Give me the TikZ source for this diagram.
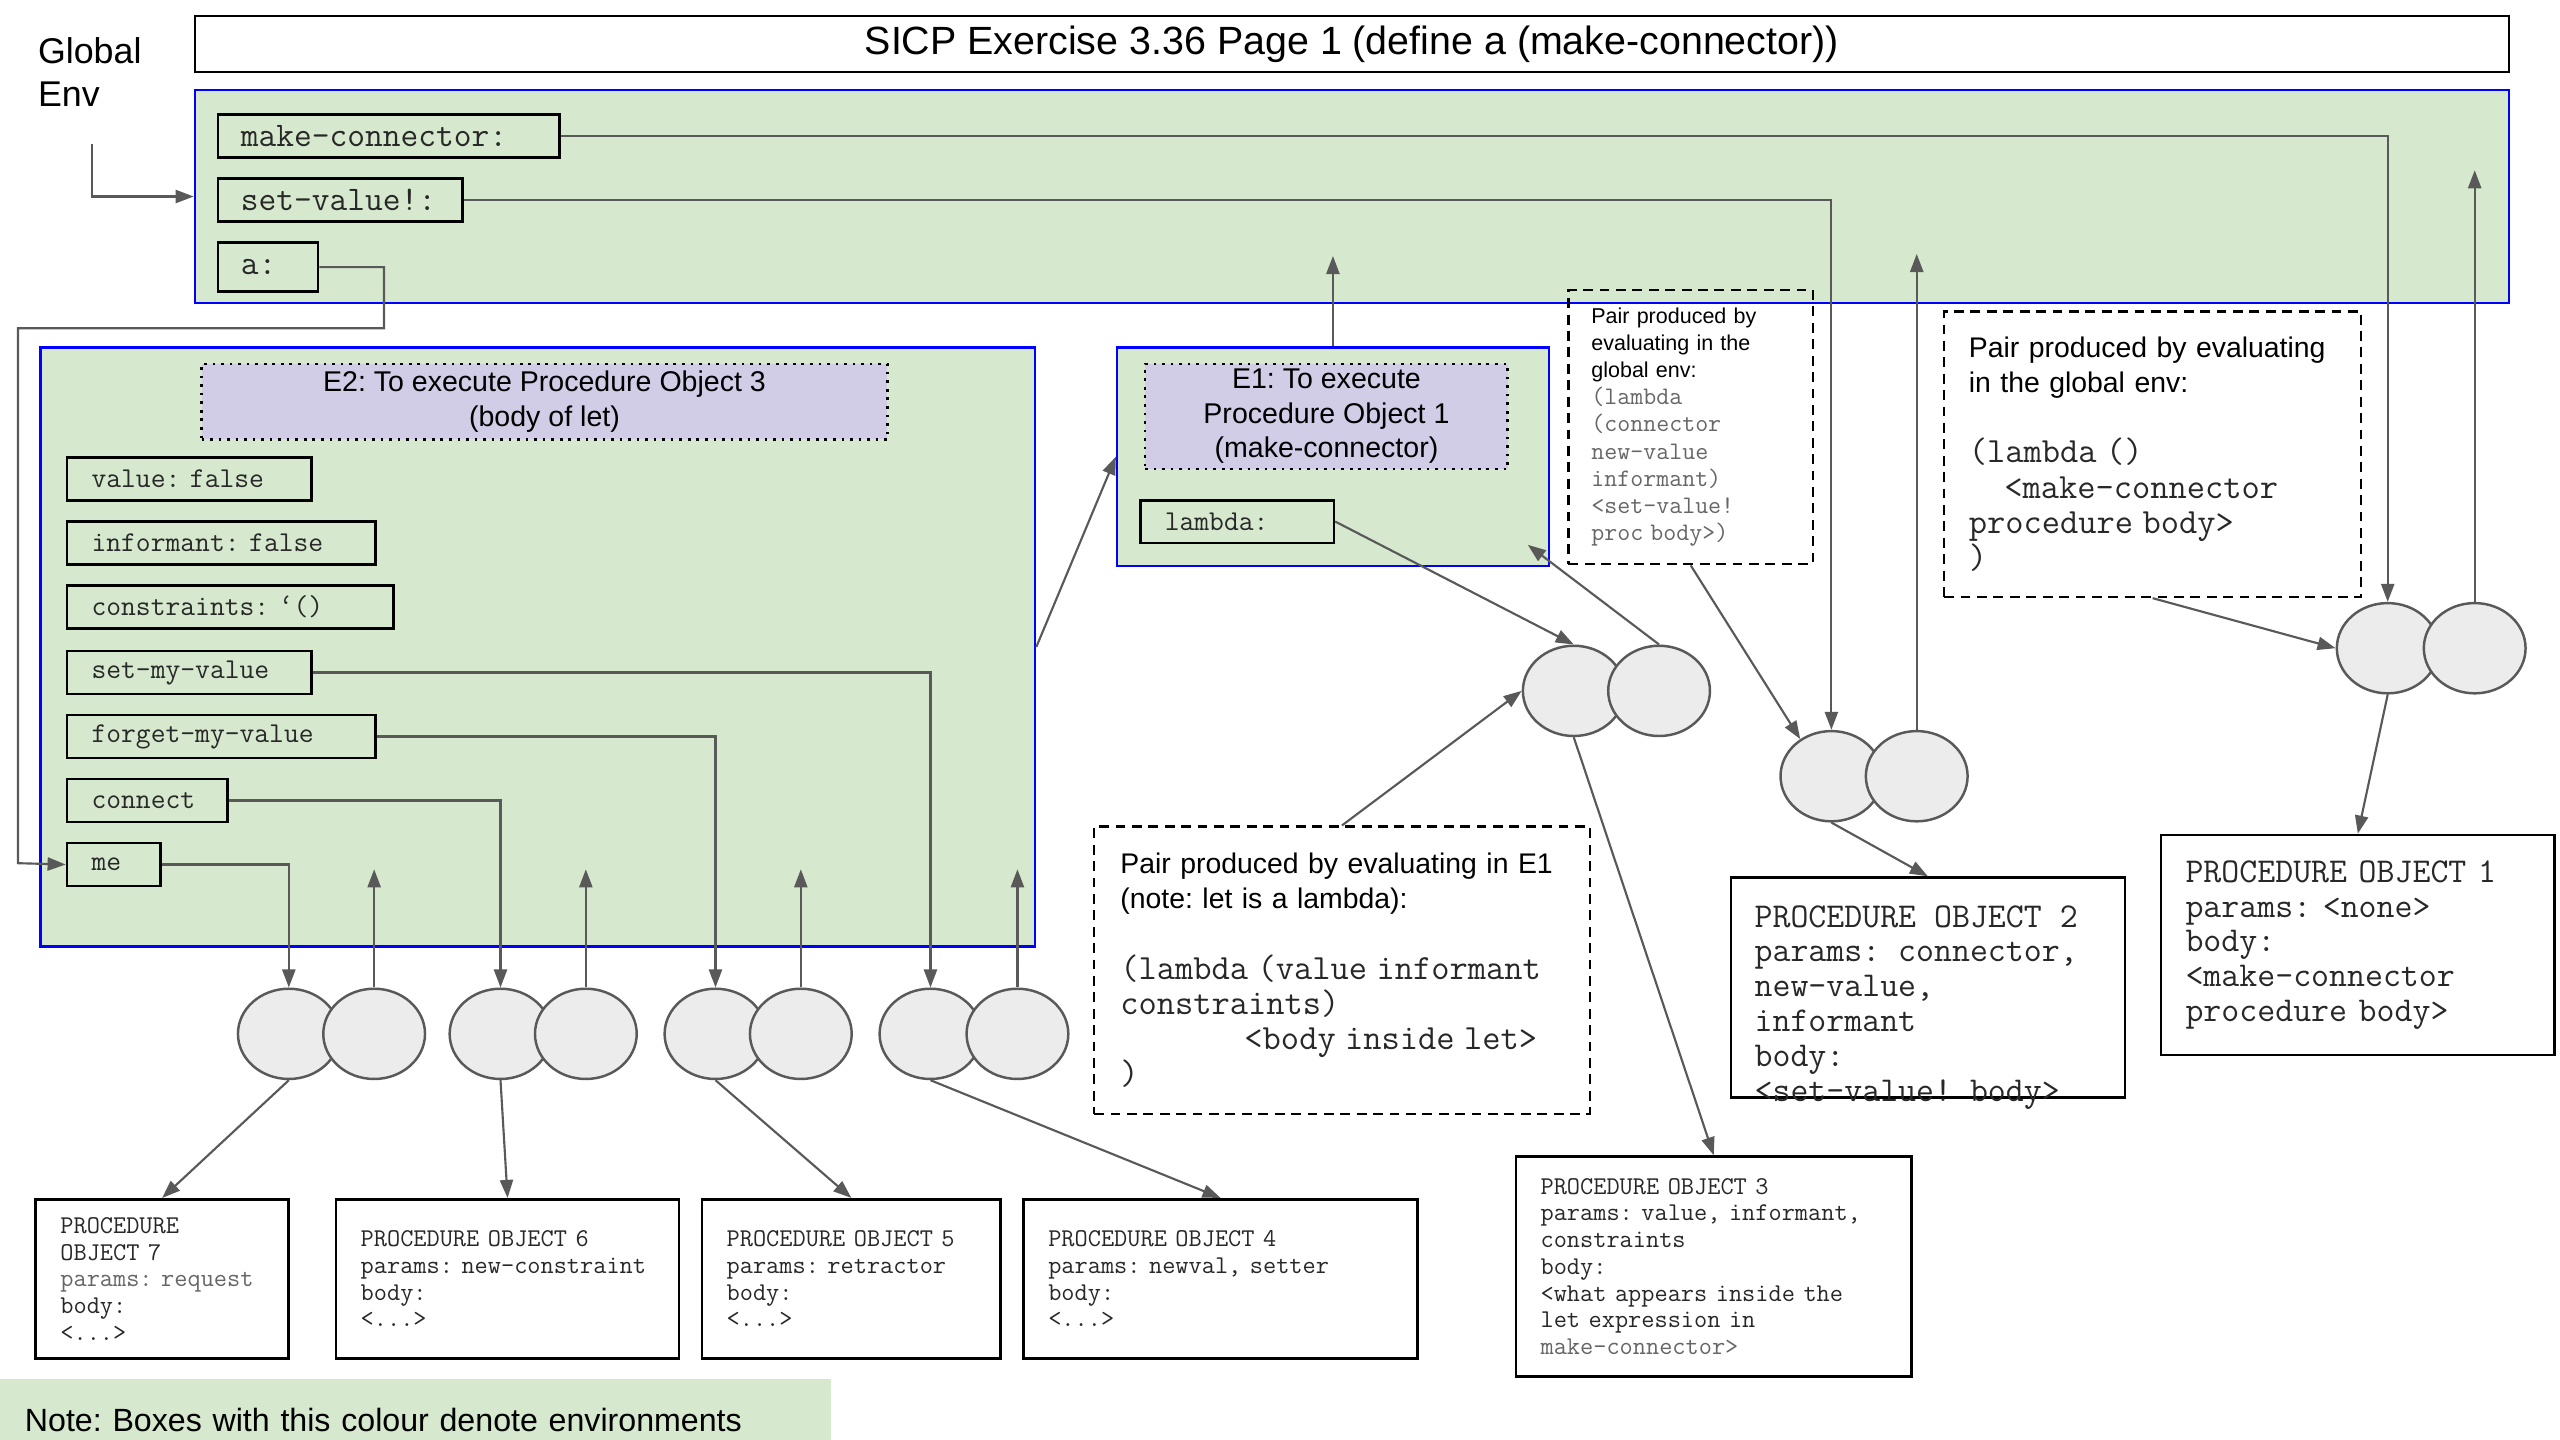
\documentclass[tikz,border=0pt]{standalone}
\usepackage{fontspec}
\setmainfont{Liberation Sans}
\setmonofont{Latin Modern Mono}[Scale=1.2]
\usepackage{tikz}
\usetikzlibrary{arrows.meta}
\usetikzlibrary{shapes.geometric}
\usepackage{color}
\definecolor{envgreen}{RGB}{214, 232, 206}
\definecolor{framelilac}{RGB}{209, 205, 231}
\definecolor{envblue}{RGB}{0, 0, 255}
\definecolor{wiregray}{RGB}{89, 89, 89}
\definecolor{cellgray}{RGB}{236, 236, 236}
\definecolor{inkgray}{RGB}{40, 40, 40}
\definecolor{softgray}{RGB}{102, 102, 102}
\newcommand{\fntTitle}{\fontsize{24}{28}\selectfont}
\newcommand{\fntLabel}{\fontsize{21.8}{26}\selectfont}
\newcommand{\fntFrame}{\fontsize{17.4}{21}\selectfont}
\newcommand{\fntNote}{\fontsize{17.3}{21.4}\selectfont}
\newcommand{\fntNoteCode}{\fontsize{18}{21.4}\selectfont\ttfamily\color{inkgray}}
\newcommand{\fntTiny}{\fontsize{13.1}{16.5}\selectfont}
\newcommand{\fntTinyCode}{\fontsize{12.8}{16.5}\selectfont\ttfamily\color{softgray}}
\newcommand{\fntGlobalCode}{\fontsize{17.5}{21}\selectfont\ttfamily}
\newcommand{\fntEnvCode}{\fontsize{14.6}{18}\selectfont\ttfamily}
\newcommand{\fntObj}{\fontsize{17.7}{21.2}\selectfont\ttfamily}
\newcommand{\fntSmallObj}{\fontsize{13}{16.3}\selectfont\ttfamily}
\newcommand{\fntLegend}{\fontsize{19.6}{24}\selectfont}
\frenchspacing

\begin{document}
\begin{tikzpicture}[x=1pt, y=-1pt,
    envbox/.style={draw=envblue, line width=1.5pt, fill=envgreen, anchor=north west, inner sep=0pt},
    binding/.style={draw=black, line width=1.6pt, fill=envgreen, anchor=north west, inner xsep=14pt, inner ysep=0pt, minimum height=26pt, align=left, text=inkgray},
    framebox/.style={draw=black, dash pattern=on 1.6pt off 3.6pt, line width=1.6pt, fill=framelilac, anchor=north west, inner sep=0pt, align=center},
    pairnote/.style={draw=black, dash pattern=on 6pt off 4pt, line width=1.5pt, anchor=north west, inner ysep=0pt, align=left},
    procbox/.style={draw=black, line width=1.6pt, fill=white, anchor=north west, inner xsep=15pt, inner ysep=0pt, align=left, text=inkgray},
    cell/.style={ellipse, draw=wiregray, line width=1.5pt, fill=cellgray, minimum width=62pt, minimum height=55pt, inner sep=0pt},
    link/.style={draw=wiregray, line width=1.3pt, -{Triangle[length=11pt, width=8pt]}}
  ]
    \useasboundingbox (0,0) rectangle (1560,877.5);

    % title and global environment
    \node[draw=black, line width=1.5pt, anchor=north west, minimum width=1410pt, minimum height=34pt, inner sep=0pt, font=\fntTitle]
        (title) at (118,9) {SICP Exercise 3.36 Page 1 (define a (make-connector))};
    \node[anchor=north west, align=left, inner sep=0pt, font=\fntLabel] (genv) at (23,23) {Global\\Env};
    \node[envbox, minimum width=1410pt, minimum height=130pt]                           (global)  at (118,54)  {};
    \node[binding, text width=180pt, font=\fntGlobalCode]                               (mkc)     at (132,69)  {make-connector:};
    \node[binding, text width=121pt, font=\fntGlobalCode]                               (setv)    at (132,108) {set-value!:};
    \node[binding, text width=33pt, minimum height=30pt, font=\fntGlobalCode]           (abind)   at (132,147) {a:};

    % E2
    \node[envbox, minimum width=606pt, minimum height=365pt]                            (e2)      at (24,211)  {};
    \node[framebox, minimum width=418pt, minimum height=46pt, font=\fntFrame]           (e2title) at (122,221) {E2: To execute Procedure Object 3\\(body of let)};
    \node[binding, inner xsep=15pt, text width=119pt, font=\fntEnvCode]                 (value)   at (40,278)  {value: false};
    \node[binding, inner xsep=15pt, text width=158pt, font=\fntEnvCode]                 (inform)  at (40,317)  {informant: false};
    \node[binding, inner xsep=15pt, text width=169pt, font=\fntEnvCode]                 (constr)  at (40,356)  {constraints: ‘()};
    \node[binding, inner xsep=15pt, text width=119pt, font=\fntEnvCode]                 (setmy)   at (40,396)  {set-my-value};
    \node[binding, inner xsep=15pt, text width=158pt, font=\fntEnvCode]                 (forget)  at (40,435)  {forget-my-value};
    \node[binding, inner xsep=15pt, text width=68pt, font=\fntEnvCode]                  (connect) at (40,474)  {connect};
    \node[binding, inner xsep=15pt, text width=27pt, font=\fntEnvCode]                  (me)      at (40,513)  {me};

    % E1
    \node[envbox, minimum width=263pt, minimum height=133pt]                            (e1)      at (680,211) {};
    \node[framebox, minimum width=221pt, minimum height=64pt, font=\fntFrame]           (e1title) at (697,221) {E1: To execute\\Procedure Object 1\\(make-connector)};
    \node[binding, inner xsep=15pt, text width=88pt, font=\fntEnvCode]                  (lambda)  at (694,304) {lambda:};

    % notes on the pairs
    \node[pairnote, inner xsep=14pt, text width=121pt, minimum height=167pt, font=\fntTiny] (noteglob) at (955,176)
        {Pair produced by\\evaluating in the\\global env:\\\fntTinyCode (lambda\\(connector\\new-value\\informant)\\<set-value!\\proc body>)};
    \node[pairnote, inner xsep=15pt, text width=224pt, minimum height=174pt, font=\fntNote] (notemk) at (1184,189)
        {Pair produced by evaluating\\in the global env:\\[21.4pt]\fntNoteCode (lambda ()\\\hspace*{21.6pt}<make-connector\\procedure body>\\)};
    \node[pairnote, inner xsep=16pt, text width=270pt, minimum height=175pt, font=\fntNote] (notee1) at (666,503)
        {Pair produced by evaluating in E1\\(note: let is a lambda):\\[21.4pt]\fntNoteCode (lambda (value informant\\constraints)\\\hspace*{75.6pt}<body inside let>\\)};

    % procedure objects
    \node[procbox, text width=210pt, minimum height=134pt, font=\fntObj]                (po1)     at (1316,508)
        {PROCEDURE OBJECT 1\\params: <none>\\body:\\<make-connector\\procedure body>};
    \node[procbox, minimum width=240pt, minimum height=134pt]                           (po2)     at (1054,534) {};
    \node[anchor=base west, inner sep=0pt, align=left, text=inkgray, font=\fntObj]      (po2text) at (1069,671)
        {PROCEDURE OBJECT 2\\params: connector,\\new-value,\\informant\\body:\\<set-value! body>};
    \node[procbox, text width=211pt, minimum height=134pt, font=\fntSmallObj]           (po3)     at (923,704)
        {PROCEDURE OBJECT 3\\params: value, informant,\\constraints\\body:\\<what appears inside the\\let expression in\\\color{softgray}make-connector>};
    \node[procbox, text width=210pt, minimum height=97pt, font=\fntSmallObj]            (po4)     at (623,730)
        {PROCEDURE OBJECT 4\\params: newval, setter\\body:\\<...>};
    \node[procbox, text width=152pt, minimum height=97pt, font=\fntSmallObj]            (po5)     at (427,730)
        {PROCEDURE OBJECT 5\\params: retractor\\body:\\<...>};
    \node[procbox, text width=179pt, minimum height=97pt, font=\fntSmallObj]            (po6)     at (204,730)
        {PROCEDURE OBJECT 6\\params: new-constraint\\body:\\<...>};
    \node[procbox, text width=124pt, minimum height=97pt, font=\fntSmallObj]            (po7)     at (21,730)
        {PROCEDURE\\OBJECT 7\\{\color{softgray}params: request}\\body:\\<...>};

    % legend
    \node[fill=envgreen, anchor=north west, inner xsep=15pt, inner ysep=0pt, text width=476pt, minimum height=50pt, align=left, font=\fntLegend]
        (legend) at (0,840) {Note: Boxes with this colour denote environments};

    % pairs
    \node[cell] (pMeL)  at (176,630)  {};
    \node[cell] (pMeR)  at (228,630)  {};
    \node[cell] (pConL) at (305,630)  {};
    \node[cell] (pConR) at (357,630)  {};
    \node[cell] (pFgtL) at (436,630)  {};
    \node[cell] (pFgtR) at (488,630)  {};
    \node[cell] (pSetL) at (567,630)  {};
    \node[cell] (pSetR) at (620,630)  {};
    \node[cell] (pLetL) at (959,421)  {};
    \node[cell] (pLetR) at (1011,421) {};
    \node[cell] (pSvL)  at (1116,473) {};
    \node[cell] (pSvR)  at (1168,473) {};
    \node[cell] (pMkL)  at (1455,395) {};
    \node[cell] (pMkR)  at (1508,395) {};

    % pointers
    \coordinate (genvtail) at (56,88);
    \coordinate (e1in)     at (931,332);
    \draw[link] (genvtail) |- (global.west);
    \draw[link] (mkc.east) -| (pMkL.north);
    \draw[link] (setv.east) -| (pSvL.north);
    \draw[link] (abind.east) -| (234,200) -| (11,526) -- (me.west);
    \draw[link] (setmy.east) -| (pSetL.north);
    \draw[link] (forget.east) -| (pFgtL.north);
    \draw[link] (connect.east) -| (pConL.north);
    \draw[link] (me.east) -| (pMeL.north);
    \draw[link] (pMeR.north)  -- ++(0,-72);
    \draw[link] (pConR.north) -- ++(0,-72);
    \draw[link] (pFgtR.north) -- ++(0,-72);
    \draw[link] (pSetR.north) -- ++(0,-72);
    \draw[link] (pMeL.south)  -- (po7.north);
    \draw[link] (pConL.south) -- (po6.north);
    \draw[link] (pFgtL.south) -- (po5.north);
    \draw[link] (pSetL.south) -- (po4.north);
    \draw[link] (e2.east) -- (e1.west);
    \draw[link] (e1.north) -- ++(0,-55);
    \draw[link] (lambda.east) -- (pLetL.north);
    \draw[link] (pLetR.north) -- (e1in);
    \draw[link] (pLetL.south) -- (po3.north);
    \draw[link] (notee1.north) -- (pLetL.west);
    \draw[link] (noteglob.south) -- (pSvL.130);
    \draw[link] (pSvR.north) -- ++(0,-290);
    \draw[link] (pSvL.south) -- (po2.north);
    \draw[link] (notemk.south) -- (pMkL.west);
    \draw[link] (pMkR.north) -- ++(0,-263);
    \draw[link] (pMkL.south) -- (po1.north);
\end{tikzpicture}
\end{document}
